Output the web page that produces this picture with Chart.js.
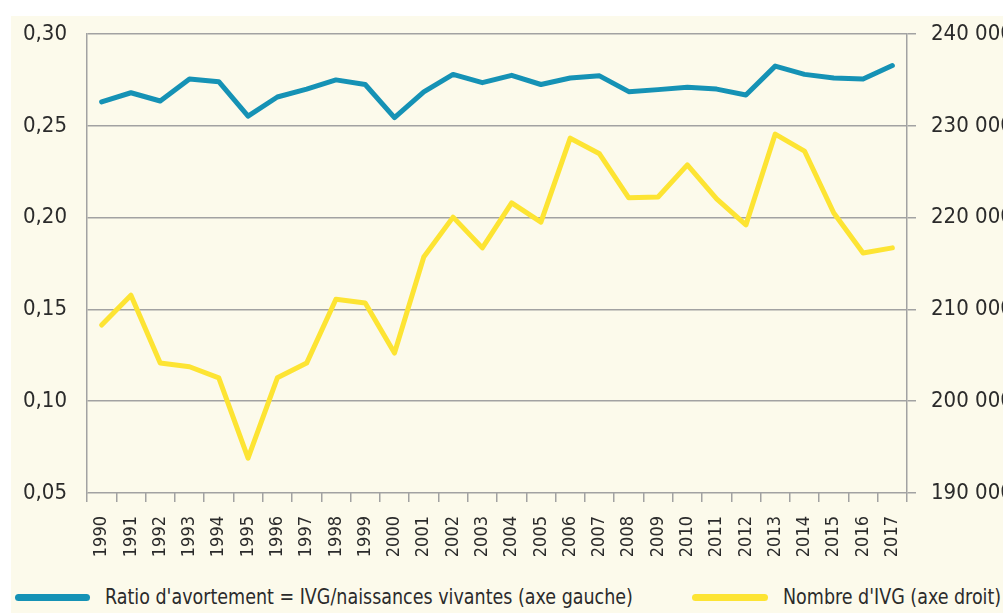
<!DOCTYPE html>
<html>
<head>
<meta charset="utf-8">
<script src="https://cdn.jsdelivr.net/npm/chart.js@4"></script>
<style>
  html, body { margin: 0; padding: 0; background: #fff; overflow: hidden; }
  #panel { position: absolute; left: 11px; top: 16px; width: 992px; height: 597px; background: #fcfaeb; }
  #chart { position: absolute; left: 0; top: 0; }
  .key { position: absolute; height: 7px; border-radius: 4px; }
  .lbl { position: absolute; font-family: 'DejaVu Sans Condensed', 'Liberation Sans', sans-serif;
         font-size: 22px; color: #2b2b2b; white-space: nowrap; line-height: 24px;
         transform: scaleX(0.885); transform-origin: left center; }
</style>
</head>
<body>
<div id="panel">
  <canvas id="chart" width="992" height="560"></canvas>
</div>
<div class="key" style="left:15px; top:594px; width:75px; background:#1592b5;"></div>
<div class="lbl" style="left:105px; top:585px;">Ratio d'avortement = IVG/naissances vivantes (axe gauche)</div>
<div class="key" style="left:692px; top:594px; width:76px; background:#fde433;"></div>
<div class="lbl" style="left:783px; top:585px;">Nombre d'IVG (axe droit)</div>
<script>
const years = ['1990','1991','1992','1993','1994','1995','1996','1997','1998','1999',
  '2000','2001','2002','2003','2004','2005','2006','2007','2008','2009',
  '2010','2011','2012','2013','2014','2015','2016','2017'];

// ratio IVG / naissances vivantes (axe gauche)
const ratio = [0.263, 0.268, 0.2635, 0.2755, 0.274, 0.2553, 0.2657, 0.270, 0.275, 0.2725,
  0.2545, 0.2685, 0.278, 0.2735, 0.2775, 0.2725, 0.276, 0.2772, 0.2686, 0.2697,
  0.271, 0.270, 0.2668, 0.2825, 0.278, 0.276, 0.2755, 0.2828];

// nombre d'IVG (axe droit)
const ivg = [208300, 211550, 204150, 203750, 202550, 193800, 202550, 204150, 211100, 210700,
  205250, 215700, 220050, 216700, 221600, 219500, 228650, 226950, 222150, 222250,
  225750, 222050, 219200, 229100, 227250, 220500, 216150, 216700];

const leftTicks = [0.05, 0.10, 0.15, 0.20, 0.25, 0.30];
const rightTicks = [190000, 200000, 210000, 220000, 230000, 240000];

const narrow = "'DejaVu Sans Condensed', 'Liberation Sans', sans-serif";
const gridColor = '#a2a2a2';
const textColor = '#2b2b2b';

// fixed axis sizes so the plot sits where the original one does
function fitY(width) {
  return s => {
    s.width = width;
    s.paddingTop = 0;
    s.paddingBottom = 0;
  };
}

new Chart(document.getElementById('chart'), {
  type: 'line',
  data: {
    labels: years,
    datasets: [{
      label: "Ratio d'avortement = IVG/naissances vivantes (axe gauche)",
      data: ratio,
      yAxisID: 'y',
      borderColor: '#1592b5',
      borderWidth: 5,
      pointRadius: 0,
      tension: 0,
      borderJoinStyle: 'round',
      borderCapStyle: 'round'
    }, {
      label: "Nombre d'IVG (axe droit)",
      data: ivg,
      yAxisID: 'y1',
      borderColor: '#fde433',
      borderWidth: 5,
      pointRadius: 0,
      tension: 0,
      borderJoinStyle: 'round',
      borderCapStyle: 'round'
    }]
  },
  options: {
    responsive: false,
    devicePixelRatio: 1,
    animation: false,
    layout: { padding: { top: 18, left: 0, right: 0, bottom: 0 } },
    plugins: { legend: { display: false }, tooltip: { enabled: false } },
    scales: {
      x: {
        offset: true,
        grid: { offset: true, drawOnChartArea: false, drawTicks: true, tickLength: 9, color: gridColor, lineWidth: 1.5 },
        border: { display: false },
        ticks: { minRotation: 90, maxRotation: 90, autoSkip: false, padding: 14, color: textColor,
          font: { family: narrow, size: 18 } },
        afterFit: s => { s.height = 83; s.paddingLeft = 0; s.paddingRight = 0; }
      },
      y: {
        position: 'left',
        min: 0.05,
        max: 0.30,
        afterBuildTicks: s => { s.ticks = leftTicks.map(v => ({ value: v })); },
        grid: { color: gridColor, lineWidth: 1.5, drawTicks: false },
        border: { display: true, color: gridColor, width: 1.5 },
        ticks: { padding: 20, color: textColor, font: { family: narrow, size: 22 },
          callback: v => v.toFixed(2).replace('.', ',') },
        afterFit: fitY(76)
      },
      y1: {
        position: 'right',
        min: 190000,
        max: 240000,
        afterBuildTicks: s => { s.ticks = rightTicks.map(v => ({ value: v })); },
        grid: { drawOnChartArea: false, tickLength: 9, color: gridColor, lineWidth: 1.5 },
        border: { display: true, color: gridColor, width: 1.5 },
        ticks: { padding: 15, color: textColor, font: { family: narrow, size: 22 },
          callback: v => String(v).replace(/\B(?=(\d{3})+(?!\d))/g, ' ') },
        afterFit: fitY(96)
      }
    }
  }
});
</script>
</body>
</html>
